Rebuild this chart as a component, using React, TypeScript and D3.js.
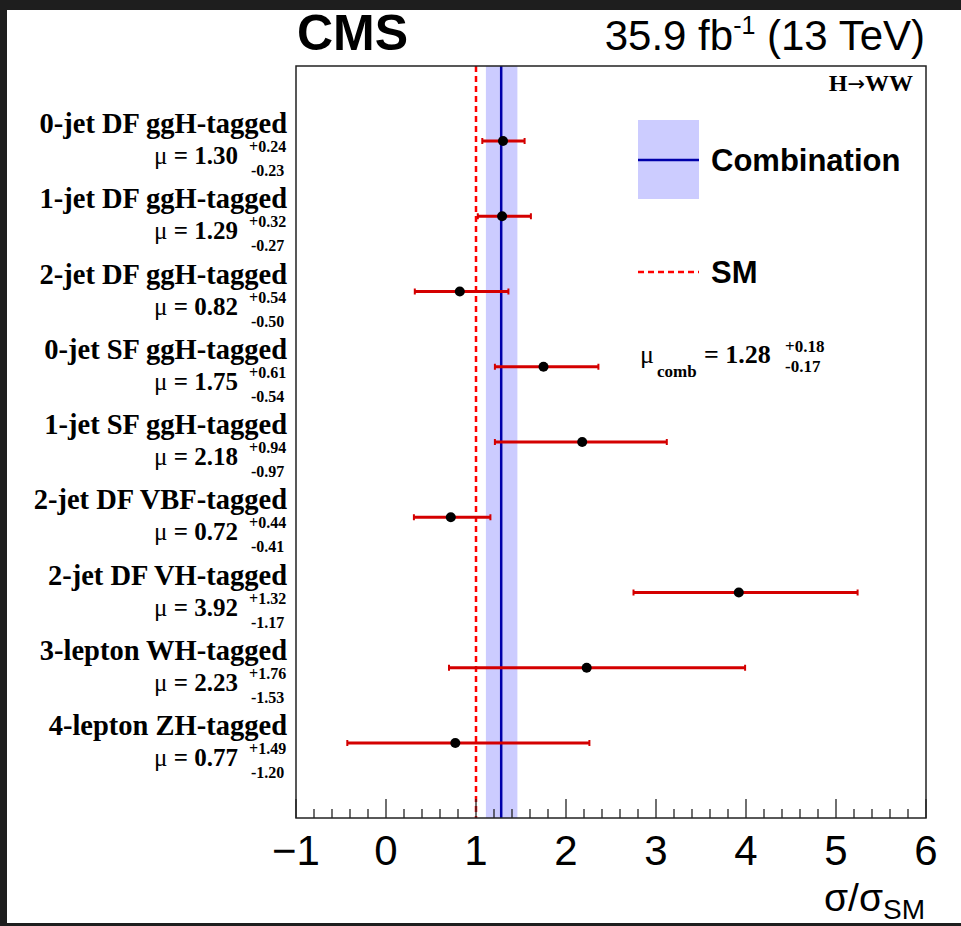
import React from "react";
import * as d3 from "d3";

const categories = [
  "0-jet DF ggH-tagged",
  "1-jet DF ggH-tagged",
  "2-jet DF ggH-tagged",
  "0-jet SF ggH-tagged",
  "1-jet SF ggH-tagged",
  "2-jet DF VBF-tagged",
  "2-jet DF VH-tagged",
  "3-lepton WH-tagged",
  "4-lepton ZH-tagged",
];
const muValues = [1.3, 1.29, 0.82, 1.75, 2.18, 0.72, 3.92, 2.23, 0.77];
const errUp = [0.24, 0.32, 0.54, 0.61, 0.94, 0.44, 1.32, 1.76, 1.49];
const errDown = [0.23, 0.27, 0.5, 0.54, 0.97, 0.41, 1.17, 1.53, 1.2];
const combination = { mu: 1.28, up: 0.18, down: 0.17 };
const smValue = 1;
const xTicks = [-1, 0, 1, 2, 3, 4, 5, 6];

const W = 961;
const H = 926;
const frame = { left: 296, right: 926, top: 66, bottom: 818 };

const SERIF = "'Liberation Serif', 'Times New Roman', serif";
const SANS = "'Liberation Sans', Arial, Helvetica, sans-serif";

export default function App() {
  const x = d3.scaleLinear().domain([-1, 6]).range([frame.left, frame.right]);
  const y = d3
    .scaleLinear()
    .domain([0, categories.length - 1])
    .range([141, 743]);
  const minorTicks = d3.range(-1, 6.0001, 0.2).map((v) => +v.toFixed(2));
  const fmt = d3.format(".2f");
  const red = "#d40000";

  return (
    <svg
      width={W}
      height={H}
      style={{ position: "absolute", left: 0, top: 0 }}
    >
      <rect x={0} y={0} width={W} height={H} fill="#1e1e1e" />
      <rect x={7} y={10} width={W - 7} height={913} fill="#ffffff" />

      {/* header */}
      <text x={297} y={50} fontFamily={SANS} fontWeight="bold" fontSize={50}>
        CMS
      </text>
      <text x={925} y={50} fontFamily={SANS} fontSize={42} textAnchor="end">
        35.9 fb
        <tspan dy={-16} fontSize={25}>-1</tspan>
        <tspan dy={16}> (13 TeV)</tspan>
      </text>

      {/* combination band */}
      <rect
        x={x(combination.mu - combination.down)}
        y={frame.top}
        width={x(combination.mu + combination.up) - x(combination.mu - combination.down)}
        height={frame.bottom - frame.top}
        fill="#ccccff"
      />
      <line
        x1={x(combination.mu)}
        x2={x(combination.mu)}
        y1={frame.top}
        y2={frame.bottom}
        stroke="#0000aa"
        strokeWidth={2.5}
      />
      {/* SM line */}
      <line
        x1={x(smValue)}
        x2={x(smValue)}
        y1={frame.top}
        y2={frame.bottom}
        stroke="#ff0000"
        strokeWidth={2.5}
        strokeDasharray="6 4"
      />

      {/* frame */}
      <rect
        x={frame.left}
        y={frame.top}
        width={frame.right - frame.left}
        height={frame.bottom - frame.top}
        fill="none"
        stroke="#222"
        strokeWidth={1.5}
      />

      {/* ticks */}
      {minorTicks.map((t, i) => {
        const major = Math.abs(t - Math.round(t)) < 1e-6;
        return (
          <line
            key={i}
            x1={x(t)}
            x2={x(t)}
            y1={frame.bottom}
            y2={frame.bottom - (major ? 19 : 9)}
            stroke="#222"
            strokeWidth={1.3}
          />
        );
      })}
      {xTicks.map((t) => (
        <text
          key={t}
          x={x(t)}
          y={865}
          fontFamily={SANS}
          fontSize={42}
          textAnchor="middle"
        >
          {t < 0 ? "\u2212" + Math.abs(t) : String(t)}
        </text>
      ))}
      <text x={925} y={911} fontFamily={SANS} fontSize={39} textAnchor="end">
        σ/σ
        <tspan dy={8} fontSize={28}>SM</tspan>
      </text>

      <text
        x={913}
        y={91}
        fontFamily={SERIF}
        fontWeight="bold"
        fontSize={24}
        textAnchor="end"
      >
        H
        <tspan fontFamily="'DejaVu Sans', sans-serif" fontWeight="normal" fontSize={21}>
          →
        </tspan>
        WW
      </text>

      {/* data */}
      {categories.map((c, i) => {
        const yy = y(i);
        const lo = x(muValues[i] - errDown[i]);
        const hi = x(muValues[i] + errUp[i]);
        return (
          <g key={c}>
            <line x1={lo} x2={hi} y1={yy} y2={yy} stroke={red} strokeWidth={3} />
            <line x1={lo} x2={lo} y1={yy - 3} y2={yy + 3} stroke={red} strokeWidth={2} />
            <line x1={hi} x2={hi} y1={yy - 3} y2={yy + 3} stroke={red} strokeWidth={2} />
            <circle cx={x(muValues[i])} cy={yy} r={5} fill="#000" />
            <text
              x={287}
              y={yy - 8}
              fontFamily={SERIF}
              fontWeight="bold"
              fontSize={28.5}
              textAnchor="end"
            >
              {c}
            </text>
            <text
              x={238}
              y={yy + 23}
              fontFamily={SERIF}
              fontWeight="bold"
              fontSize={25}
              textAnchor="end"
            >
              <tspan fontWeight="normal">μ</tspan> = {fmt(muValues[i])}
            </text>
            <text x={249} y={yy + 11} fontFamily={SERIF} fontWeight="bold" fontSize={16}>
              +{fmt(errUp[i])}
            </text>
            <text x={251} y={yy + 35} fontFamily={SERIF} fontWeight="bold" fontSize={16}>
              -{fmt(errDown[i])}
            </text>
          </g>
        );
      })}

      {/* legend */}
      <rect x={638} y={120} width={61} height={79} fill="#ccccff" />
      <line x1={638} x2={699} y1={160} y2={160} stroke="#0000aa" strokeWidth={2.5} />
      <text x={711} y={171} fontFamily={SANS} fontWeight="bold" fontSize={31}>
        Combination
      </text>
      <line
        x1={638}
        x2={699}
        y1={272}
        y2={272}
        stroke="#ff0000"
        strokeWidth={2.5}
        strokeDasharray="6 4"
      />
      <text x={711} y={283} fontFamily={SANS} fontWeight="bold" fontSize={31}>
        SM
      </text>

      <text x={640} y={363} fontFamily={SERIF} fontSize={26}>
        μ
      </text>
      <text x={657} y={377} fontFamily={SERIF} fontWeight="bold" fontSize={17}>
        comb
      </text>
      <text x={704} y={363} fontFamily={SERIF} fontWeight="bold" fontSize={26}>
        = {fmt(combination.mu)}
      </text>
      <text x={785} y={352} fontFamily={SERIF} fontWeight="bold" fontSize={17}>
        +{fmt(combination.up)}
      </text>
      <text x={785} y={372} fontFamily={SERIF} fontWeight="bold" fontSize={17}>
        -{fmt(combination.down)}
      </text>
    </svg>
  );
}
